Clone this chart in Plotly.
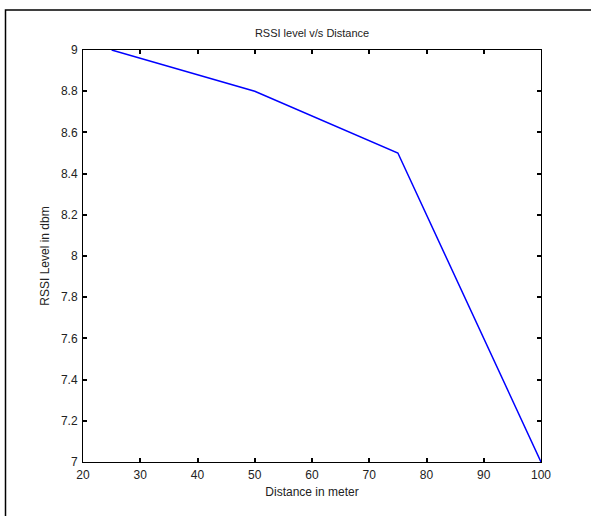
import plotly.graph_objects as go

# RSSI measurements at each distance
distance_m = [25, 50, 75, 100]
rssi_dbm = [9.0, 8.8, 8.5, 7.0]

x_ticks = [20, 30, 40, 50, 60, 70, 80, 90, 100]
y_ticks = [7, 7.2, 7.4, 7.6, 7.8, 8, 8.2, 8.4, 8.6, 8.8, 9]
y_tick_text = ["7", "7.2", "7.4", "7.6", "7.8", "8", "8.2", "8.4", "8.6", "8.8", "9"]

font_family = "Liberation Sans, Arial, sans-serif"

fig = go.Figure()
fig.add_trace(go.Scatter(
    x=distance_m, y=rssi_dbm, mode="lines",
    line=dict(color="#0000ff", width=1.5),
    showlegend=False,
))

axis_common = dict(
    showline=True, linecolor="#000000", linewidth=1, mirror="allticks",
    ticks="inside", ticklen=4, tickcolor="#000000", tickwidth=1.5,
    showgrid=False, zeroline=False,
    tickfont=dict(family=font_family, size=12, color="#222222"),
)

# plot-area geometry in pixels, used to place the outer frame in paper units
W, H = 591, 516
L, R, T, B = 83, 50, 50, 54
pw, ph = W - L - R, H - T - B


def px_x(p):
    return (p - L) / pw


def px_y(p):
    return (H - B - p) / ph


fig.update_layout(
    width=W, height=H,
    margin=dict(l=L, r=R, t=T, b=B),
    paper_bgcolor="white", plot_bgcolor="white",
    font=dict(family=font_family, size=12, color="#222222"),
    title=dict(text="RSSI level v/s Distance", x=0.528, xanchor="center",
               y=1 - 33 / H, yanchor="middle",
               font=dict(family=font_family, size=11, color="#222222")),
    xaxis=dict(range=[20, 100], tickvals=x_ticks, ticklabelstandoff=2,
               title=dict(text="Distance in meter", standoff=6,
                          font=dict(family=font_family, size=12, color="#222222")),
               **axis_common),
    yaxis=dict(range=[7, 9], tickvals=y_ticks, ticktext=y_tick_text,
               ticklabelstandoff=2,
               title=dict(text="RSSI Level in dbm", standoff=8,
                          font=dict(family=font_family, size=12, color="#222222")),
               **axis_common),
    shapes=[
        # outer figure frame; its right and bottom edges fall past the page
        dict(type="rect", xref="paper", yref="paper", layer="below",
             x0=px_x(5.5), x1=px_x(W + 20), y0=px_y(10), y1=px_y(H + 20),
             line=dict(color="#000000", width=1.5), fillcolor="rgba(0,0,0,0)"),
    ],
)

fig.write_html("out.html", config={"displayModeBar": False})
